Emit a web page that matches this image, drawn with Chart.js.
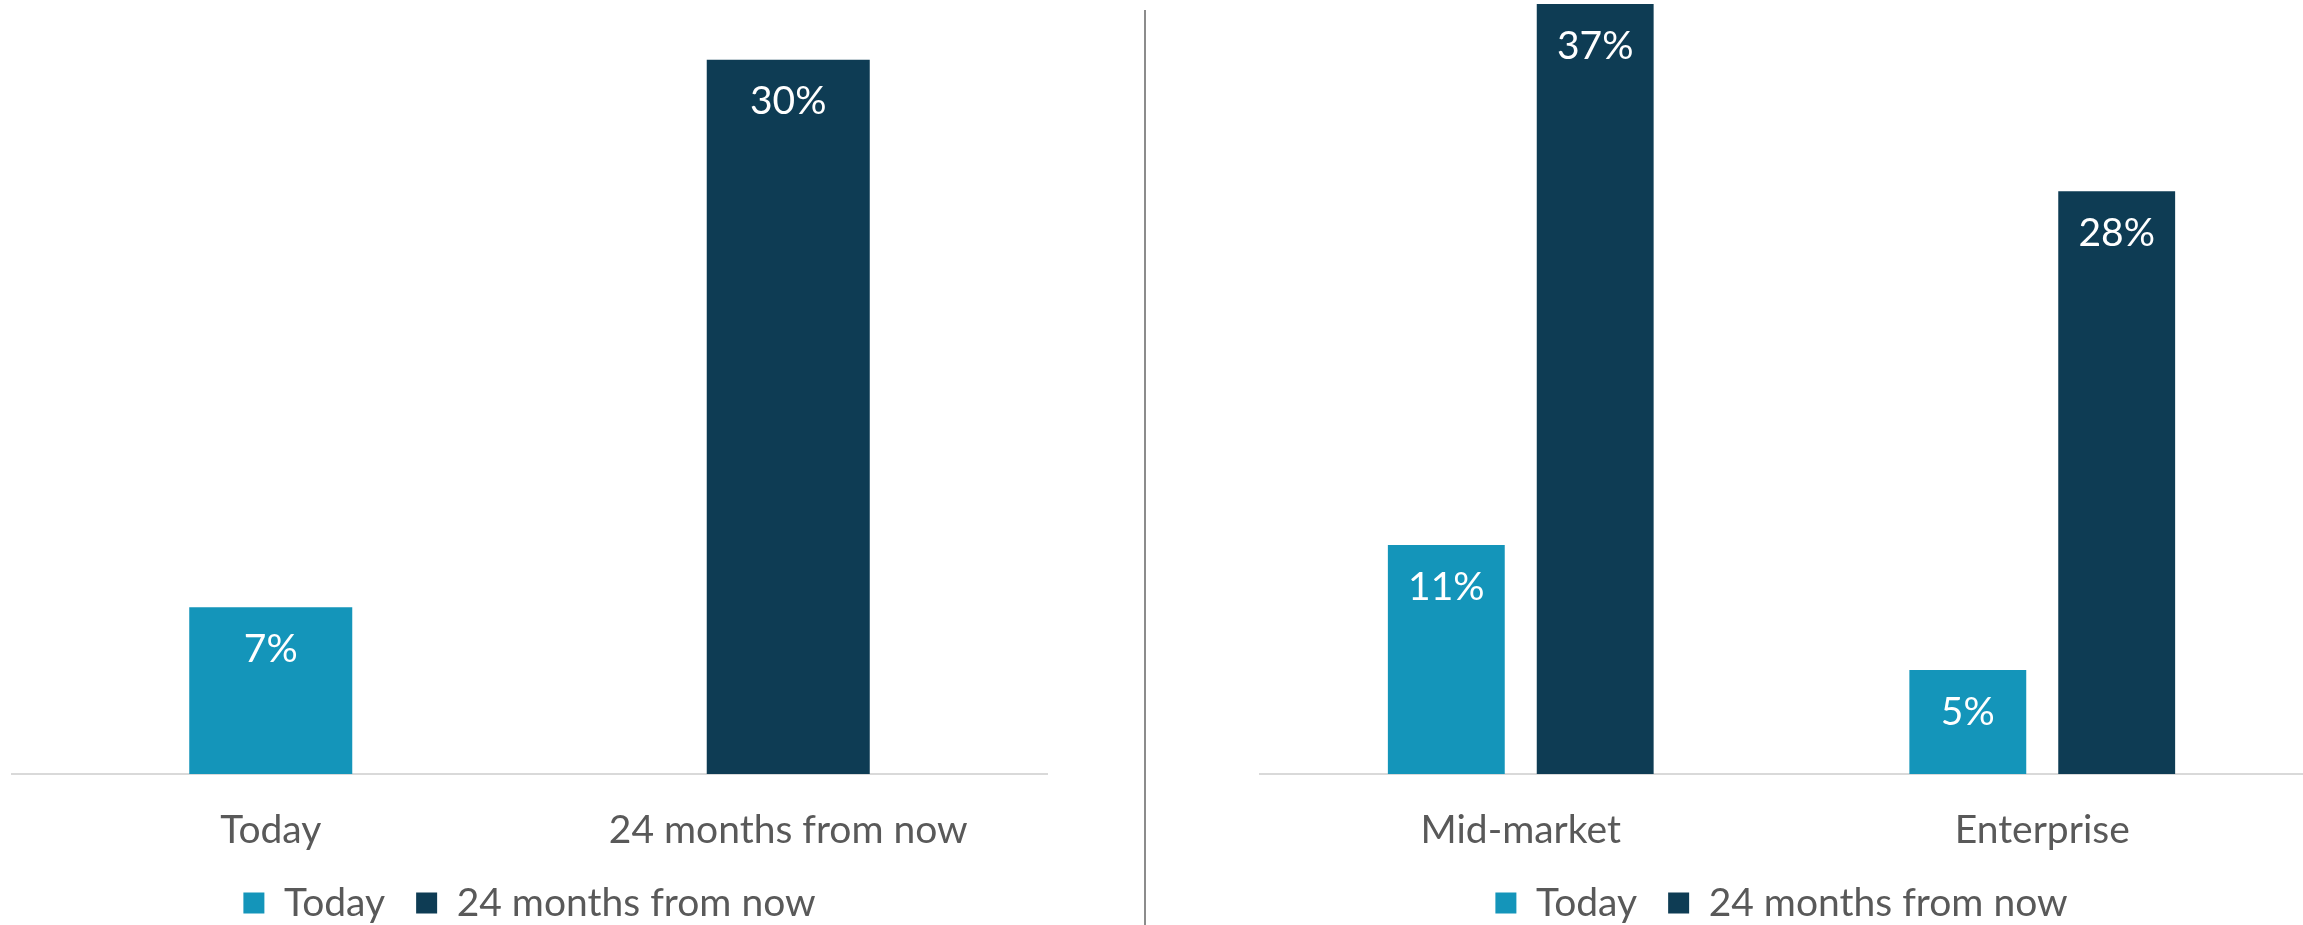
<!DOCTYPE html>
<html>
<head>
<meta charset="utf-8">
<script src="https://cdn.jsdelivr.net/npm/chart.js@4.4.1/dist/chart.umd.min.js"></script>
<style>
  html, body { margin: 0; padding: 0; background: #ffffff; overflow: hidden; width: 2303px; height: 925px; }
  #left { position: absolute; left: 0; top: 0; }
  #right { position: absolute; left: 1146px; top: 0; }
  #divider { position: absolute; left: 1144px; top: 10px; width: 2px; height: 915px; background: #8c8c8c; }
</style>
</head>
<body>
<canvas id="left" width="1146" height="940"></canvas>
<div id="divider"></div>
<canvas id="right" width="1157" height="940"></canvas>
<script>
// ---- Data ----
const seriesNames = ['Today', '24 months from now'];
const leftCategories = ['Today', '24 months from now'];
const leftToday = [7, null];
const leftFuture = [null, 30];
const rightCategories = ['Mid-market', 'Enterprise'];
const rightToday = [11, 5];
const rightFuture = [37, 28];

// ---- Style ----
const COLOR_TODAY = '#1495BA';
const COLOR_FUTURE = '#0E3C54';
const TEXT_COLOR = '#595959';
const FONT_FAMILY = 'Lato';
const FONT_SIZE = 39;

const valueLabels = {
  id: 'valueLabels',
  afterDatasetsDraw(chart) {
    const ctx = chart.ctx;
    ctx.save();
    ctx.fillStyle = '#ffffff';
    ctx.font = FONT_SIZE + 'px ' + FONT_FAMILY;
    ctx.textAlign = 'center';
    ctx.textBaseline = 'middle';
    chart.data.datasets.forEach((ds, di) => {
      const meta = chart.getDatasetMeta(di);
      meta.data.forEach((el, i) => {
        const v = ds.data[i];
        if (v === null || v === undefined) return;
        ctx.fillText(v + '%', el.x, el.y + 42);
      });
    });
    ctx.restore();
  }
};

function makeOptions(yMax, padding) {
  return {
    responsive: false,
    animation: false,
    events: [],
    layout: { padding: padding },
    plugins: {
      tooltip: { enabled: false },
      legend: {
        position: 'bottom',
        labels: {
          color: TEXT_COLOR,
          font: { family: FONT_FAMILY, size: FONT_SIZE },
          boxWidth: 21,
          boxHeight: 21,
          padding: 31
        }
      }
    },
    scales: {
      x: {
        grid: { display: true, drawOnChartArea: false, drawTicks: true, tickLength: 33.5, color: 'rgba(0,0,0,0)' },
        border: { display: true, color: '#D9D9D9', width: 2 },
        ticks: {
          color: TEXT_COLOR,
          font: { family: FONT_FAMILY, size: FONT_SIZE, lineHeight: '45px' },
          padding: 0,
          maxRotation: 0,
          autoSkip: false
        }
      },
      y: { display: false, min: 0, max: yMax }
    }
  };
}

new Chart(document.getElementById('left'), {
  type: 'bar',
  data: {
    labels: leftCategories,
    datasets: [
      { label: seriesNames[0], data: leftToday, backgroundColor: COLOR_TODAY, borderWidth: 0,
        grouped: false, categoryPercentage: 1, barPercentage: 0.315 },
      { label: seriesNames[1], data: leftFuture, backgroundColor: COLOR_FUTURE, borderWidth: 0,
        grouped: false, categoryPercentage: 1, barPercentage: 0.315 }
    ]
  },
  options: makeOptions(32, { top: 12, left: 12, right: 99, bottom: 7.5 }),
  plugins: [valueLabels]
});

new Chart(document.getElementById('right'), {
  type: 'bar',
  data: {
    labels: rightCategories,
    datasets: [
      { label: seriesNames[0], data: rightToday, backgroundColor: COLOR_TODAY, borderWidth: 0,
        categoryPercentage: 0.571, barPercentage: 0.785 },
      { label: seriesNames[1], data: rightFuture, backgroundColor: COLOR_FUTURE, borderWidth: 0,
        categoryPercentage: 0.571, barPercentage: 0.785 }
    ]
  },
  options: makeOptions(37, { top: 4, left: 114, right: 0, bottom: 7.5 }),
  plugins: [valueLabels]
});
</script>
</body>
</html>
